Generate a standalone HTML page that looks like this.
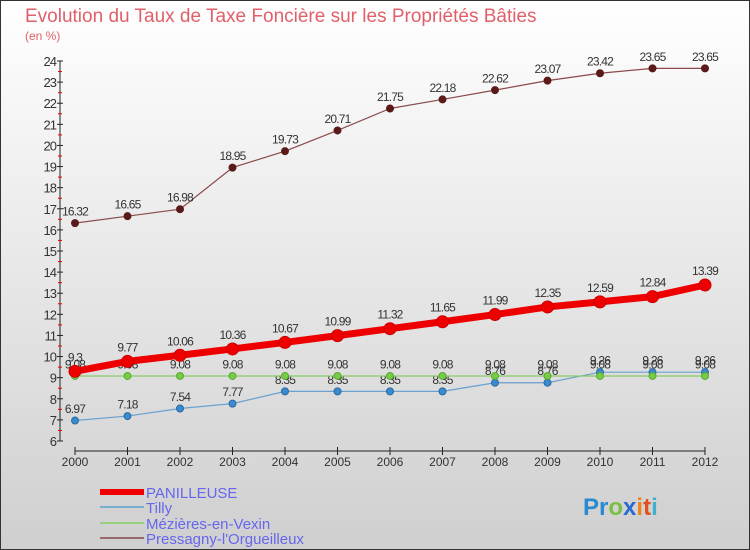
<!DOCTYPE html>
<html><head><meta charset="utf-8"><style>
body{margin:0;}
#wrap{position:relative;width:750px;height:550px;overflow:hidden;background:linear-gradient(#ffffff,#cfcfcf);font-family:"Liberation Sans",sans-serif;}
svg{position:absolute;left:0;top:0;}
</style></head><body>
<div id="wrap">
<svg id="c" width="750" height="550">
<rect x="0.5" y="0.5" width="749" height="549" fill="none" stroke="#333" stroke-width="1"/>
<text x="25" y="22" font-size="19" fill="#e0606a">Evolution du Taux de Taxe Foncière sur les Propriétés Bâties</text>
<text x="25" y="40" font-size="12" fill="#e0606a">(en %)</text>
<g id="axes"></g><g id="series"></g>
<g>
<line x1="100" y1="492" x2="144" y2="492" stroke="#ee0000" stroke-width="6"/>
<text x="146" y="498" font-size="15" fill="#6666ee">PANILLEUSE</text>
<line x1="100" y1="507" x2="144" y2="507" stroke="#7aaed0" stroke-width="2"/>
<text x="146" y="513" font-size="15" fill="#6666ee">Tilly</text>
<line x1="100" y1="523" x2="144" y2="523" stroke="#99d080" stroke-width="2"/>
<text x="146" y="529" font-size="15" fill="#6666ee">Mézières-en-Vexin</text>
<line x1="100" y1="538" x2="144" y2="538" stroke="#9a6a6a" stroke-width="2"/>
<text x="146" y="544" font-size="15" fill="#6666ee">Pressagny-l'Orgueilleux</text>
</g>
<text x="583" y="515" font-size="24" font-weight="bold"><tspan fill="#2a8ad0">Pr</tspan><tspan fill="#7ac040">o</tspan><tspan fill="#2a6ad0">x</tspan><tspan fill="#f08020">i</tspan><tspan fill="#e05020">t</tspan><tspan fill="#40b0d0">i</tspan></text>
</svg>
</div>
<script>
const years=[2000,2001,2002,2003,2004,2005,2006,2007,2008,2009,2010,2011,2012];
const panilleuse=[9.3,9.77,10.06,10.36,10.67,10.99,11.32,11.65,11.99,12.35,12.59,12.84,13.39];
const tilly=[6.97,7.18,7.54,7.77,8.35,8.35,8.35,8.35,8.76,8.76,9.26,9.26,9.26];
const mezieres=[9.08,9.08,9.08,9.08,9.08,9.08,9.08,9.08,9.08,9.08,9.08,9.08,9.08];
const pressagny=[16.32,16.65,16.98,18.95,19.73,20.71,21.75,22.18,22.62,23.07,23.42,23.65,23.65];
const yTicks=[6,7,8,9,10,11,12,13,14,15,16,17,18,19,20,21,22,23,24];
const NS="http://www.w3.org/2000/svg";
const X=i=>75+i*52.5;
const Y=v=>441-(v-6)*(380/18);
function mk(t,a,p){const e=document.createElementNS(NS,t);for(const k in a)e.setAttribute(k,a[k]);p.appendChild(e);return e;}
const ax=document.getElementById('axes');
let l=mk('line',{x1:60,y1:Y(24),x2:60,y2:Y(6),stroke:'#222'},ax);


l=mk('line',{x1:X(0),y1:451,x2:X(12),y2:451,stroke:'#222'},ax);


yTicks.forEach(v=>{
 mk('line',{x1:57,y1:Y(v),x2:63,y2:Y(v),stroke:'#222'},ax);
 if(v<24)mk('line',{x1:58,y1:Y(v+0.5),x2:62,y2:Y(v+0.5),stroke:'#e00'},ax);
 const t=mk('text',{x:56,y:Y(v)+5,'text-anchor':'end','font-size':13,fill:'#333','letter-spacing':'-1'},ax);
 t.textContent=v;
 
 
});
years.forEach((yr,i)=>{
 mk('line',{x1:X(i),y1:447,x2:X(i),y2:455,stroke:'#222'},ax);
 const t=mk('text',{x:X(i),y:466,'text-anchor':'middle','font-size':12,fill:'#333'},ax);
 t.textContent=yr;
 
 
});
const sg=document.getElementById('series');
function draw(vals,name,color,w,r,dot,stroke){
 const g=mk('g',{},sg);
 
 
 mk('polyline',{points:vals.map((v,i)=>X(i)+','+Y(v)).join(' '),fill:'none',stroke:color,'stroke-width':w,'stroke-linejoin':'round'},g);
 vals.forEach((v,i)=>{
  const c=mk('circle',{cx:X(i),cy:Y(v),r:r,fill:dot,stroke:stroke,'stroke-width':1},g);
  
  
  const t=mk('text',{x:X(i),y:Y(v)-r-4,'text-anchor':'middle','font-size':12,fill:'#333','letter-spacing':'-0.8'},g);
  t.textContent=String(v);
  
  
 });
}
draw(pressagny,'pressagny','#8a4a4a',1.2,3.5,'#5a1a1a','#5a1a1a');
draw(tilly,'tilly','#6aa0d0',1.2,3.5,'#3a8ad0','#2a6aa0');
draw(mezieres,'mezieres','#88cc66',1.2,3.5,'#77cc44','#55aa33');
draw(panilleuse,'panilleuse','#ee0000',7,6,'#ee0000','#cc0000');
</script>
</body></html>
